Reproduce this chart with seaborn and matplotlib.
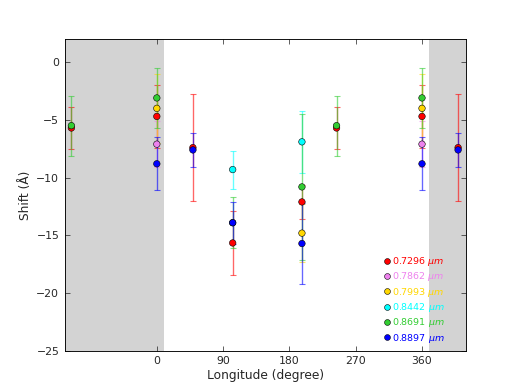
import numpy as np
import pandas as pd
import matplotlib
matplotlib.use("Agg")
import matplotlib.pyplot as plt
import seaborn as sns

# Wavelength labels and colours
wavelengths = ["0.7296", "0.7862", "0.7993", "0.8442", "0.8691", "0.8897"]
colors = ["red", "violet", "gold", "cyan", "limegreen", "blue"]

# Shift measurements per wavelength (longitude in degrees, shift and error in Angstrom)
lon_7296 = [0, 49, 103, 197, 244]
shift_7296 = [-4.7, -7.4, -15.65, -12.1, -5.7]
err_7296 = [2.7, 4.6, 2.75, 1.5, 1.8]

lon_7862 = [0]
shift_7862 = [-7.1]
err_7862 = [2.0]

lon_7993 = [0, 197]
shift_7993 = [-4.0, -14.8]
err_7993 = [3.0, 2.5]

lon_8442 = [103, 197]
shift_8442 = [-9.3, -6.9]
err_8442 = [1.65, 2.7]

lon_8691 = [0, 103, 197, 244]
shift_8691 = [-3.1, -13.9, -10.8, -5.5]
err_8691 = [2.6, 2.2, 6.3, 2.6]

lon_8897 = [0, 49, 103, 197]
shift_8897 = [-8.8, -7.6, -13.9, -15.7]
err_8897 = [2.3, 1.5, 1.8, 3.5]

series = [
    (lon_7296, shift_7296, err_7296),
    (lon_7862, shift_7862, err_7862),
    (lon_7993, shift_7993, err_7993),
    (lon_8442, shift_8442, err_8442),
    (lon_8691, shift_8691, err_8691),
    (lon_8897, shift_8897, err_8897),
]

xticks = [0, 90, 180, 270, 360]
yticks = [-25, -20, -15, -10, -5, 0]

# Build long table, with wrapped copies at -360/+360 so edges repeat
rows = []
for wl, (lon, sh, er) in zip(wavelengths, series):
    for wrap in (-360, 0, 360):
        for l, s, e in zip(lon, sh, er):
            rows.append({"label": f"{wl} $\\mu m$", "lon": l + wrap, "shift": s, "err": e})
df = pd.DataFrame(rows)
labels = [f"{wl} $\\mu m$" for wl in wavelengths]
palette = dict(zip(labels, colors))

sns.set_style("ticks")
plt.rcParams["font.family"] = ["DejaVu Sans"]

fig = plt.figure(figsize=(518 / 65, 6), dpi=65)
ax = fig.add_axes([0.125, 0.1, 0.775, 0.8])

# Shaded wrap-around regions
ax.axvspan(-125, 10, color="lightgray", zorder=0, lw=0)
ax.axvspan(370, 420, color="lightgray", zorder=0, lw=0)

# Error bars first, markers on top
for lab in labels:
    sub = df[df["label"] == lab]
    ax.errorbar(sub["lon"], sub["shift"], yerr=sub["err"], fmt="none",
                ecolor=palette[lab], alpha=0.6, elinewidth=1.5, capsize=3,
                capthick=1.2, zorder=2)

sns.scatterplot(data=df, x="lon", y="shift", hue="label", palette=palette,
                hue_order=labels, edgecolor="black", linewidth=0.6, s=52,
                zorder=3, ax=ax, legend=True)

handles, _ = ax.get_legend_handles_labels()
leg = ax.legend(handles, labels, loc="lower right", bbox_to_anchor=(0.955, 0.008),
                frameon=False, fontsize=10.5, handlelength=0.6, handletextpad=0.2,
                labelspacing=0.25, markerscale=0.9, borderaxespad=0)
for txt, c in zip(leg.get_texts(), colors):
    txt.set_color(c)

ax.set_xlim(-125, 420)
ax.set_ylim(-25, 2)
ax.set_xticks(xticks)
ax.set_yticks(yticks)
ax.tick_params(direction="in", top=True, right=True, length=5, labelsize=12, pad=6)
for sp in ax.spines.values():
    sp.set_color("black")
    sp.set_linewidth(1.0)
ax.set_xlabel("Longitude (degree)", fontsize=13.5, labelpad=3)
ax.set_ylabel("Shift (Å)", fontsize=13.5, labelpad=5)

fig.savefig("out.png", dpi=65)
